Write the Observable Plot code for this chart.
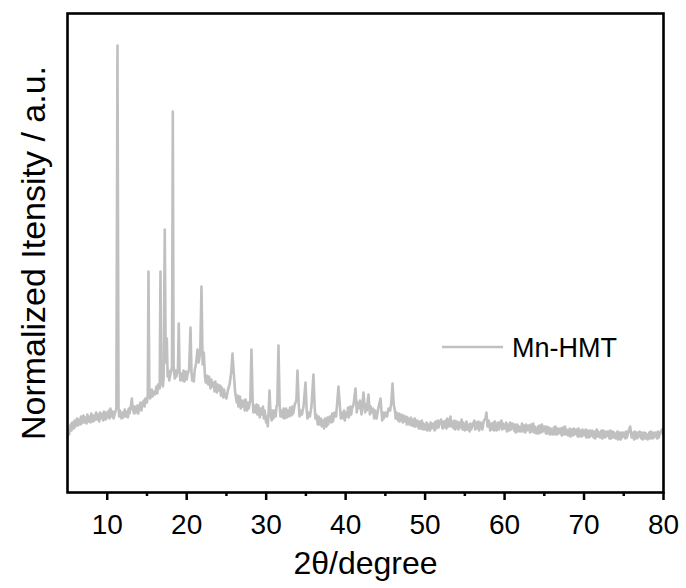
<!DOCTYPE html>
<html>
<head>
<meta charset="utf-8">
<script src="https://cdn.jsdelivr.net/npm/d3@7"></script>
<script src="https://cdn.jsdelivr.net/npm/@observablehq/plot@0.6"></script>
<style>
  html, body { margin: 0; padding: 0; background: #fff; }
  #chart { width: 686px; height: 588px; }
</style>
</head>
<body>
<div id="chart"></div>
<script>
// XRD scan of Mn-HMT: [2θ (degree), intensity (a.u.)]
const scan = [
[5.0,54],[5.1,62],[5.2,58],[5.4,68],[5.5,62],[5.6,70],[5.8,64],[5.9,72],
[6.0,66],[6.2,74],[6.3,67],[6.4,73],[6.6,68],[6.7,76],[6.8,69],
[7.0,77],[7.1,70],[7.2,75],[7.4,69],[7.5,78],[7.6,71],[7.8,76],[7.9,70],
[8.0,79],[8.2,71],[8.3,77],[8.4,72],[8.6,80],[8.7,73],[8.8,78],
[9.0,71],[9.1,80],[9.2,74],[9.4,79],[9.5,72],[9.6,81],[9.8,73],[9.9,80],
[10.0,75],[10.2,82],[10.3,74],[10.4,84],[10.6,76],[10.7,81],[10.8,74],
[11.0,80],[11.15,84],[11.29,447],[11.42,86],[11.5,76],[11.6,82],[11.8,74],[11.9,80],
[12.0,75],[12.2,83],[12.3,76],[12.4,81],[12.6,75],[12.7,84],[12.8,79],
[13.0,88],[13.1,94],[13.2,84],[13.4,79],[13.5,86],[13.6,80],[13.8,87],[13.9,79],
[14.0,86],[14.2,90],[14.3,82],[14.4,88],[14.6,92],[14.7,86],[14.8,94],
[15.0,90],[15.1,98],[15.19,221],[15.3,100],[15.4,94],[15.6,103],[15.7,96],[15.8,101],
[16.0,98],[16.2,106],[16.3,99],[16.4,108],[16.6,104],[16.7,221],[16.8,112],
[17.0,106],[17.1,114],[17.24,263],[17.36,130],[17.5,154],[17.6,116],[17.7,122],[17.8,112],
[18.0,120],[18.15,126],[18.25,381],[18.35,126],[18.5,114],[18.6,122],[18.7,116],[18.9,124],
[19.0,169],[19.1,122],[19.2,112],[19.3,119],[19.5,112],[19.6,122],[19.7,111],[19.9,121],
[20.0,113],[20.1,118],[20.3,123],[20.48,165],[20.6,120],[20.7,112],[20.8,118],[20.9,111],
[21.0,122],[21.2,130],[21.36,143],[21.5,130],[21.7,140],[21.86,206],
[22.0,128],[22.15,140],[22.3,116],[22.4,110],[22.5,117],[22.7,108],[22.8,116],
[23.0,104],[23.1,113],[23.2,106],[23.4,110],[23.5,101],[23.6,111],[23.8,100],[23.9,108],
[24.0,102],[24.2,107],[24.3,97],[24.4,105],[24.6,95],[24.7,103],[24.8,98],
[25.0,94],[25.2,103],[25.4,108],[25.6,120],[25.76,139],[25.9,122],
[26.1,100],[26.3,90],[26.4,97],[26.5,86],[26.7,96],[26.8,84],[26.9,92],
[27.0,86],[27.2,92],[27.3,82],[27.4,93],[27.6,82],[27.7,90],[27.8,84],
[28.0,92],[28.15,143],[28.3,92],[28.4,80],[28.5,87],[28.7,80],[28.8,88],[28.9,78],
[29.0,87],[29.2,75],[29.3,84],[29.4,78],[29.6,86],[29.7,74],[29.8,82],
[30.0,70],[30.1,76],[30.2,66],[30.3,80],[30.42,102],[30.55,78],[30.7,72],[30.8,82],[30.9,74],
[31.0,82],[31.2,76],[31.3,86],[31.4,88],[31.55,147],[31.7,86],[31.8,76],[31.9,82],
[32.1,75],[32.2,84],[32.3,74],[32.5,84],[32.6,75],[32.7,82],[32.9,76],
[33.0,85],[33.2,77],[33.3,86],[33.4,79],[33.6,88],[33.8,92],[33.94,122],
[34.1,88],[34.2,76],[34.3,82],[34.5,78],[34.7,86],[34.95,110],
[35.1,82],[35.2,74],[35.3,80],[35.5,76],[35.7,86],[35.95,118],
[36.1,86],[36.2,74],[36.3,78],[36.5,68],[36.6,76],[36.7,68],[36.9,74],
[37.0,66],[37.2,72],[37.3,64],[37.4,74],[37.6,66],[37.7,75],[37.8,68],
[38.0,76],[38.2,70],[38.3,79],[38.4,71],[38.6,80],[38.8,76],
[39.1,106],[39.3,84],[39.4,74],[39.5,80],[39.7,74],[39.8,82],[39.9,72],
[40.0,80],[40.2,76],[40.3,85],[40.4,75],[40.6,86],[40.7,78],[40.8,84],
[41.0,88],[41.24,104],[41.4,80],[41.5,90],[41.6,84],[41.8,92],
[42.0,78],[42.25,100],[42.45,80],[42.55,88],[42.65,82],[42.88,98],
[43.05,78],[43.15,86],[43.25,80],[43.45,84],[43.6,74],[43.7,82],[43.9,74],
[44.1,84],[44.39,94],[44.6,72],[44.7,80],[44.8,74],
[45.0,80],[45.2,76],[45.4,84],[45.6,82],[45.75,90],[45.9,109],
[46.05,88],[46.2,82],[46.3,74],[46.4,80],[46.6,72],[46.7,79],[46.8,71],
[47.0,78],[47.2,70],[47.3,77],[47.4,71],[47.6,76],[47.7,68],[47.8,75],
[48.0,68],[48.2,75],[48.3,67],[48.4,73],[48.6,66],[48.7,74],[48.8,66],
[49.0,72],[49.2,64],[49.3,71],[49.4,64],[49.6,72],[49.7,63],[49.8,69],
[50.0,63],[50.2,70],[50.3,62],[50.4,68],[50.6,62],[50.7,70],[50.8,64],
[51.0,69],[51.2,62],[51.3,71],[51.4,64],[51.6,72],[51.7,65],[51.8,70],
[52.0,73],[52.2,64],[52.3,71],[52.4,65],[52.6,72],[52.7,64],[52.8,74],
[53.0,66],[53.2,76],[53.3,66],[53.4,71],[53.6,64],[53.7,72],[53.8,63],
[54.0,71],[54.2,63],[54.3,70],[54.4,65],[54.6,73],[54.7,63],[54.8,70],
[55.0,62],[55.2,71],[55.3,63],[55.4,68],[55.6,61],[55.7,69],[55.8,63],
[56.0,68],[56.2,72],[56.3,63],[56.4,70],[56.6,64],[56.7,71],[56.8,62],
[57.0,70],[57.2,63],[57.4,72],[57.6,74],[57.72,80],[57.85,66],
[58.0,72],[58.2,62],[58.3,69],[58.4,63],[58.6,70],[58.7,62],[58.8,71],
[59.0,62],[59.2,70],[59.3,63],[59.4,68],[59.6,72],[59.7,63],[59.8,69],
[60.0,64],[60.2,70],[60.3,61],[60.4,68],[60.6,62],[60.7,70],[60.8,63],
[61.0,69],[61.2,62],[61.3,68],[61.4,60],[61.6,68],[61.7,61],[61.8,66],
[62.0,61],[62.2,69],[62.3,61],[62.4,67],[62.6,60],[62.7,68],[62.8,62],
[63.0,67],[63.2,60],[63.3,68],[63.4,61],[63.6,69],[63.7,60],[63.8,66],
[64.0,59],[64.2,66],[64.3,59],[64.4,67],[64.6,60],[64.7,68],[64.8,61],
[65.0,66],[65.2,59],[65.3,66],[65.4,59],[65.6,65],[65.7,58],[65.8,64],
[66.0,58],[66.2,65],[66.3,58],[66.4,66],[66.6,58],[66.7,64],[66.8,59],
[67.0,64],[67.2,57],[67.3,65],[67.4,58],[67.6,66],[67.7,58],[67.8,63],
[68.0,57],[68.2,64],[68.3,56],[68.4,63],[68.6,57],[68.7,64],[68.8,58],
[69.0,63],[69.2,56],[69.3,64],[69.4,56],[69.6,62],[69.7,56],[69.8,63],
[70.0,57],[70.2,63],[70.3,55],[70.4,62],[70.6,55],[70.7,62],[70.8,56],
[71.0,62],[71.2,55],[71.3,61],[71.4,54],[71.6,63],[71.7,56],[71.8,61],
[72.0,55],[72.2,62],[72.3,54],[72.4,62],[72.6,55],[72.7,61],[72.8,56],
[73.0,61],[73.2,54],[73.3,62],[73.4,54],[73.6,61],[73.7,55],[73.8,60],
[74.0,54],[74.2,61],[74.3,53],[74.4,60],[74.6,53],[74.7,60],[74.8,55],
[75.0,60],[75.2,54],[75.3,61],[75.4,55],[75.6,61],[75.8,66],
[76.0,55],[76.2,60],[76.3,53],[76.4,61],[76.6,54],[76.7,60],[76.8,55],
[77.0,61],[77.2,54],[77.3,60],[77.4,53],[77.6,60],[77.7,54],[77.8,59],
[78.0,53],[78.2,60],[78.3,54],[78.4,61],[78.6,54],[78.7,60],[78.8,55],
[79.0,60],[79.2,54],[79.3,61],[79.4,55],[79.6,60],[79.8,63],
[80.0,57]
];
const seriesName = "Mn-HMT";
const xMajorTicks = [10, 20, 30, 40, 50, 60, 70, 80];
const xMinorTicks = [15, 25, 35, 45, 55, 65, 75];
const xDomain = [5, 80];
const yDomain = [0, 479];
const xTitle = "2θ/degree";
const yTitle = "Normalized Itensity / a.u.";

const data = scan.map(([t, v]) => ({t, v}));
const lineColor = "#c0c0c0";
const font = "'Liberation Sans', Arial, Helvetica, sans-serif";

const plot = Plot.plot({
  width: 686,
  height: 588,
  marginLeft: 67,
  marginRight: 23,
  marginTop: 13,
  marginBottom: 96,
  style: {fontFamily: font, color: "#000", background: "#fff", overflow: "visible"},
  x: {domain: xDomain},
  y: {domain: yDomain, axis: null},
  marks: [
    Plot.line(data, {x: "t", y: "v", stroke: lineColor, strokeWidth: 2.6, strokeLinejoin: "round"}),
    Plot.axisX({ticks: xMajorTicks, tickSize: 8, tickPadding: 14, strokeWidth: 2.5, fontSize: 28, label: null, tickFormat: d => String(d), stroke: "#000", fill: "#000"}),
    Plot.axisX({ticks: xMinorTicks, tickSize: 4, text: null, label: null, strokeWidth: 2.5, stroke: "#000"}),
    Plot.frame({stroke: "#000", strokeWidth: 2.6}),
    Plot.text([xTitle], {text: d => d, frameAnchor: "bottom", lineAnchor: "bottom", textAnchor: "middle", dy: 81, fontSize: 32, fill: "#000"}),
    Plot.text([yTitle], {text: d => d, frameAnchor: "left", lineAnchor: "bottom", textAnchor: "middle", rotate: -90, dx: -23, fontSize: 34, fill: "#000"})
  ]
});

// legend
const svg = d3.select(plot);
const lg = svg.append("g").attr("class", "legend");
lg.append("line").attr("x1", 442).attr("x2", 503).attr("y1", 347).attr("y2", 347)
  .attr("stroke", lineColor).attr("stroke-width", 2.6);
lg.append("text").attr("x", 512).attr("y", 357).attr("font-size", 27)
  .attr("text-anchor", "start")
  .attr("font-family", font).attr("fill", "#000").text(seriesName);

document.getElementById("chart").appendChild(plot);
</script>
</body>
</html>
